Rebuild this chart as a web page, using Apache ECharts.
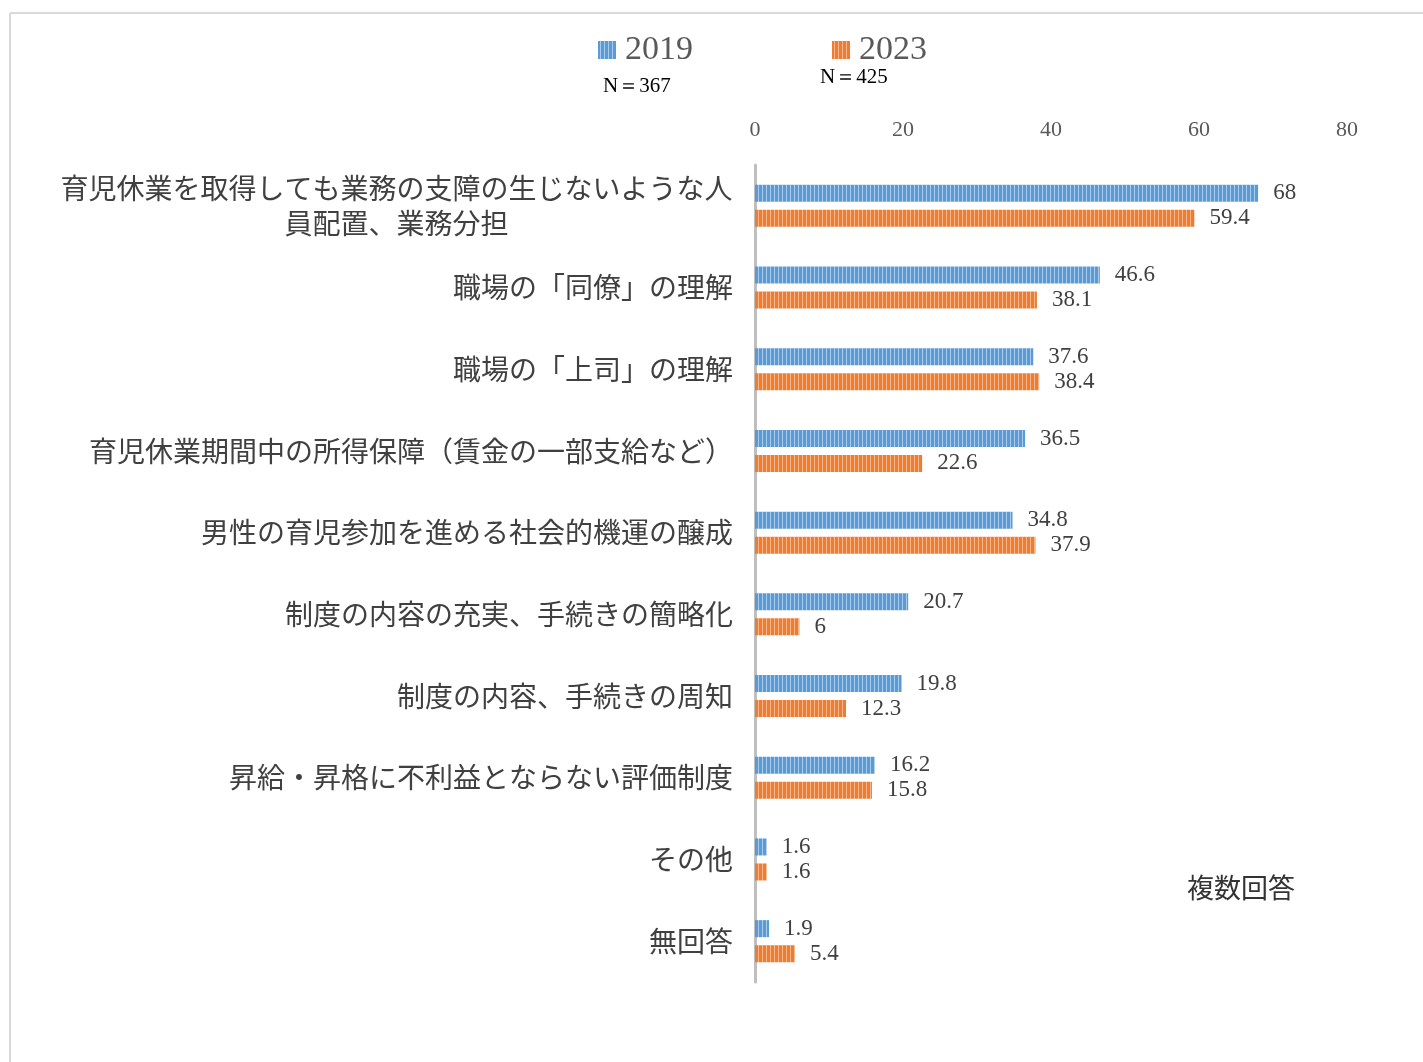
<!DOCTYPE html>
<html>
<head>
<meta charset="utf-8">
<script src="https://cdn.jsdelivr.net/npm/echarts@6/dist/echarts.min.js"></script>
<style>
  body { margin: 0; background: #fff; }
  #chart-container { width: 1423px; height: 1062px; }
</style>
</head>
<body>
<div id="chart-container"></div>
<script>
// categories top to bottom
const categories = [
  "育児休業を取得しても業務の支障の生じないような人\n員配置、業務分担",
  "職場の「同僚」の理解",
  "職場の「上司」の理解",
  "育児休業期間中の所得保障（賃金の一部支給など）",
  "男性の育児参加を進める社会的機運の醸成",
  "制度の内容の充実、手続きの簡略化",
  "制度の内容、手続きの周知",
  "昇給・昇格に不利益とならない評価制度",
  "その他",
  "無回答"
];
const values2019 = [68, 46.6, 37.6, 36.5, 34.8, 20.7, 19.8, 16.2, 1.6, 1.9];
const values2023 = [59.4, 38.1, 38.4, 22.6, 37.9, 6, 12.3, 15.8, 1.6, 5.4];
const seriesNames = ["2019", "2023"];
const sampleSizes = ["N＝367", "N＝425"];
const axisTicks = [0, 20, 40, 60, 80];

// vertical stripe fill like the excel pattern
const stripes = (base, light) => {
  const c = document.createElement("canvas");
  c.width = 4;
  c.height = 4;
  const ctx = c.getContext("2d");
  ctx.fillStyle = base;
  ctx.fillRect(0, 0, 4, 4);
  ctx.fillStyle = light;
  ctx.fillRect(2, 0, 1, 4);
  return { image: c, repeat: "repeat" };
};
const blueFill = stripes("#5b9bd5", "#a9cbeb");
const orangeFill = stripes("#ed7d31", "#f6b58a");

const chart = echarts.init(document.getElementById("chart-container"));

const valueLabel = {
  show: true,
  position: "right",
  distance: 15,
  fontFamily: "Liberation Serif",
  fontSize: 23,
  color: "#404040"
};

const option = {
  animation: false,
  grid: { left: 755, right: 76, top: 165, bottom: 80 },
  legend: {
    left: 593,
    top: 28,
    icon: "rect",
    itemWidth: 18,
    itemHeight: 18,
    itemGap: 139,
    textStyle: { fontFamily: "Liberation Serif", fontSize: 34, color: "#595959", padding: [0, 0, 0, 4] },
    data: seriesNames
  },
  xAxis: {
    type: "value",
    position: "top",
    min: axisTicks[0],
    max: axisTicks[axisTicks.length - 1],
    interval: 20,
    axisLine: { show: false },
    axisTick: { show: false },
    splitLine: { show: false },
    axisLabel: { margin: 24, fontFamily: "Liberation Serif", fontSize: 22, color: "#595959" }
  },
  yAxis: {
    type: "category",
    inverse: true,
    data: categories,
    axisTick: { show: false },
    axisLine: { lineStyle: { color: "#bfbfbf", width: 3 } },
    axisLabel: {
      margin: 22,
      formatter: (v, i) => {
        const lines = v.split("\n");
        if (lines.length > 1) return lines.map((l) => "{c|" + l + "}").join("\n");
        return "{r|" + v + "}";
      },
      rich: {
        c: { width: 673, align: "center", fontFamily: "Noto Sans CJK JP", fontSize: 28, lineHeight: 35, color: "#404040" },
        r: { fontFamily: "Noto Sans CJK JP", fontSize: 28, lineHeight: 35, color: "#404040" }
      }
    }
  },
  series: [
    {
      name: seriesNames[0],
      type: "bar",
      data: values2019,
      barWidth: 17,
      barGap: "47%",
      itemStyle: { color: blueFill },
      label: valueLabel
    },
    {
      name: seriesNames[1],
      type: "bar",
      data: values2023,
      barWidth: 17,
      itemStyle: { color: orangeFill },
      label: valueLabel
    }
  ],
  graphic: [
    { type: "line", shape: { x1: 10, y1: 13, x2: 1423, y2: 13 }, style: { stroke: "#d9d9d9", lineWidth: 2 } },
    { type: "line", shape: { x1: 10, y1: 13, x2: 10, y2: 1062 }, style: { stroke: "#d9d9d9", lineWidth: 2 } },
    { type: "text", left: 603, top: 76, style: { text: sampleSizes[0], fontFamily: "Liberation Serif", fontSize: 21, fill: "#000" } },
    { type: "text", left: 820, top: 67, style: { text: sampleSizes[1], fontFamily: "Liberation Serif", fontSize: 21, fill: "#000" } },
    { type: "text", left: 1187, top: 874, style: { text: "複数回答", fontFamily: "Noto Sans CJK JP", fontSize: 27, fill: "#333" } }
  ]
};

chart.setOption(option);
</script>
</body>
</html>
